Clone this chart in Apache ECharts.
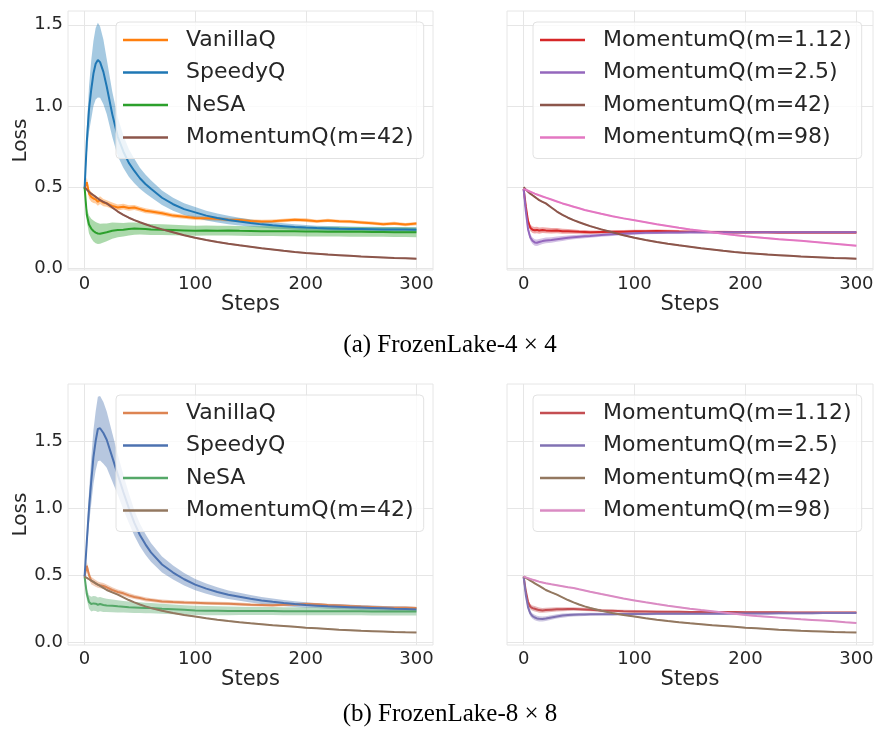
<!DOCTYPE html>
<html>
<head>
<meta charset="utf-8">
<script src="https://cdn.jsdelivr.net/npm/echarts@6/dist/echarts.min.js"></script>
<style>
  html, body { margin: 0; background: #fff; }
  #main { width: 877px; height: 731px; }
</style>
</head>
<body>
<div id="main"></div>
<script>
// training steps shared by every curve
var steps = [0,2,4,6,8,10,12,14,17,20, 25,30,35,40,45,50,55,60,
  70,80,90,100,110,120,130,140,150,160, 170,180,190,200,210,220,230,240,250,260, 270,280,290,300];
var xTicks = [0, 100, 200, 300];
var yTicks = [0, 0.5, 1.0, 1.5];

// ---- FrozenLake 4x4 ----
var vanilla4 = [0.50,0.53,0.46,0.44,0.43,0.425,0.41,0.42,0.405,0.40, 0.385,0.375,0.38,0.372,0.375,0.365,0.355,0.35,
  0.34,0.325,0.318,0.31,0.308,0.305,0.30,0.298,0.292,0.288, 0.29,0.295,0.30,0.297,0.29,0.295,0.29,0.288,0.283,0.278, 0.272,0.277,0.27,0.276];
var vanilla4Sd = [0,0.03,0.03,0.03,0.028,0.026,0.025,0.024,0.022,0.02, 0.02,0.018,0.018,0.017,0.016,0.015,0.015,0.014,
  0.014,0.013,0.013,0.012,0.012,0.012,0.012,0.012,0.011,0.011, 0.011,0.011,0.011,0.011,0.01,0.01,0.01,0.01,0.01,0.01, 0.01,0.01,0.01,0.01];
var speedy4 = [0.49,0.78,0.98,1.10,1.20,1.26,1.283,1.27,1.21,1.12, 0.95,0.81,0.72,0.65,0.60,0.555,0.52,0.49,
  0.435,0.395,0.365,0.345,0.325,0.31,0.298,0.288,0.279,0.271, 0.265,0.26,0.255,0.251,0.248,0.246,0.244,0.243,0.242,0.241, 0.24,0.24,0.239,0.238];
var speedy4Sd = [0,0.08,0.14,0.18,0.2,0.22,0.23,0.22,0.2,0.17, 0.14,0.12,0.1,0.085,0.075,0.065,0.058,0.052,
  0.045,0.04,0.036,0.033,0.03,0.028,0.026,0.024,0.022,0.02, 0.019,0.018,0.017,0.016,0.015,0.015,0.015,0.015,0.015,0.015, 0.015,0.015,0.015,0.015];
var nesa4 = [0.50,0.33,0.27,0.245,0.23,0.22,0.215,0.213,0.218,0.222, 0.232,0.236,0.238,0.242,0.245,0.244,0.242,0.24,
  0.238,0.236,0.234,0.232,0.233,0.232,0.233,0.231,0.23,0.229, 0.229,0.228,0.228,0.227,0.227,0.226,0.226,0.225,0.225,0.224, 0.224,0.223,0.223,0.222];
var nesa4Sd = [0,0.04,0.055,0.06,0.065,0.065,0.065,0.062,0.058,0.055, 0.05,0.045,0.042,0.04,0.038,0.036,0.035,0.034,
  0.033,0.032,0.032,0.031,0.031,0.03,0.03,0.03,0.03,0.03, 0.03,0.03,0.03,0.03,0.03,0.03,0.03,0.03,0.03,0.03, 0.03,0.03,0.03,0.03];
var mom42_4 = [0.50,0.485,0.472,0.46,0.45,0.44,0.43,0.42,0.41,0.40, 0.375,0.35,0.33,0.312,0.297,0.284,0.272,0.26,
  0.24,0.222,0.204,0.188,0.175,0.163,0.152,0.142,0.133,0.124, 0.116,0.108,0.101,0.095,0.09,0.085,0.081,0.077,0.073,0.07, 0.067,0.064,0.062,0.06];
var mom112_4 = [0.49,0.38,0.29,0.25,0.238,0.235,0.237,0.233,0.236,0.234, 0.232,0.233,0.229,0.228,0.227,0.225,0.224,0.223,
  0.224,0.225,0.226,0.228,0.229,0.23,0.229,0.227,0.226,0.225, 0.224,0.223,0.222,0.222,0.222,0.222,0.221,0.221,0.221,0.221, 0.221,0.221,0.221,0.221];
var mom25_4 = [0.49,0.35,0.24,0.19,0.17,0.16,0.158,0.162,0.168,0.172, 0.175,0.18,0.184,0.188,0.192,0.195,0.198,0.2,
  0.205,0.21,0.214,0.217,0.219,0.22,0.221,0.221,0.222,0.222, 0.222,0.222,0.222,0.222,0.223,0.223,0.223,0.223,0.223,0.223, 0.223,0.223,0.223,0.223];
var mom98_4 = [0.49,0.484,0.478,0.472,0.466,0.46,0.455,0.45,0.443,0.436, 0.424,0.412,0.40,0.39,0.38,0.37,0.36,0.352,
  0.336,0.321,0.308,0.296,0.284,0.272,0.261,0.25,0.24,0.231, 0.222,0.213,0.205,0.198,0.192,0.186,0.18,0.175,0.17,0.164, 0.158,0.152,0.146,0.14];

// ---- FrozenLake 8x8 ----
var vanilla8 = [0.49,0.57,0.50,0.46,0.45,0.44,0.43,0.425,0.42,0.41, 0.39,0.375,0.365,0.35,0.338,0.33,0.32,0.315,
  0.305,0.30,0.296,0.294,0.292,0.29,0.288,0.284,0.28,0.278, 0.276,0.28,0.282,0.285,0.283,0.278,0.275,0.27,0.266,0.263, 0.26,0.257,0.258,0.255];
var vanilla8Sd = [0,0.03,0.03,0.028,0.026,0.025,0.024,0.023,0.022,0.021, 0.02,0.019,0.018,0.017,0.016,0.015,0.015,0.014,
  0.014,0.013,0.013,0.012,0.012,0.012,0.012,0.012,0.011,0.011, 0.011,0.011,0.011,0.011,0.01,0.01,0.01,0.01,0.01,0.01, 0.01,0.01,0.01,0.01];
var speedy8 = [0.49,0.75,1.00,1.20,1.38,1.50,1.59,1.595,1.56,1.51, 1.38,1.25,1.12,1.00,0.89,0.80,0.73,0.67,
  0.58,0.52,0.47,0.43,0.40,0.375,0.355,0.34,0.325,0.312, 0.302,0.293,0.285,0.278,0.273,0.268,0.265,0.262,0.259,0.256, 0.253,0.25,0.248,0.245];
var speedy8Sd = [0,0.07,0.12,0.17,0.2,0.22,0.24,0.24,0.23,0.21, 0.18,0.15,0.13,0.11,0.095,0.085,0.077,0.07,
  0.06,0.052,0.046,0.042,0.038,0.035,0.032,0.03,0.028,0.026, 0.024,0.022,0.021,0.02,0.018,0.018,0.018,0.018,0.018,0.018, 0.018,0.018,0.018,0.018];
var nesa8 = [0.49,0.36,0.30,0.285,0.29,0.288,0.28,0.285,0.278,0.275, 0.272,0.268,0.265,0.262,0.26,0.258,0.256,0.255,
  0.25,0.246,0.242,0.238,0.236,0.235,0.234,0.234,0.233,0.233, 0.233,0.232,0.232,0.232,0.232,0.231,0.231,0.231,0.231,0.23, 0.23,0.23,0.23,0.23];
var nesa8Sd = [0,0.04,0.05,0.055,0.055,0.055,0.054,0.053,0.052,0.05, 0.048,0.045,0.043,0.042,0.041,0.04,0.039,0.038,
  0.037,0.036,0.035,0.035,0.034,0.033,0.032,0.031,0.03,0.03, 0.03,0.03,0.03,0.03,0.03,0.03,0.03,0.03,0.03,0.03, 0.03,0.03,0.03,0.03];
var mom42_8 = [0.49,0.48,0.47,0.46,0.45,0.44,0.43,0.42,0.405,0.39, 0.372,0.355,0.335,0.315,0.298,0.282,0.268,0.256,
  0.235,0.218,0.204,0.192,0.18,0.169,0.159,0.15,0.142,0.135, 0.128,0.122,0.116,0.109,0.104,0.099,0.094,0.09,0.086,0.083, 0.08,0.077,0.075,0.074];
var mom112_8 = [0.49,0.38,0.30,0.265,0.255,0.25,0.245,0.24,0.238,0.24, 0.243,0.246,0.247,0.248,0.248,0.247,0.245,0.242,
  0.238,0.235,0.232,0.23,0.229,0.228,0.227,0.227,0.226,0.226, 0.225,0.225,0.225,0.224,0.224,0.224,0.224,0.223,0.223,0.223, 0.223,0.223,0.223,0.223];
var mom25_8 = [0.49,0.35,0.26,0.215,0.195,0.185,0.178,0.175,0.174,0.177, 0.185,0.193,0.199,0.203,0.206,0.207,0.208,0.209,
  0.21,0.21,0.211,0.211,0.211,0.212,0.212,0.212,0.213,0.213, 0.213,0.213,0.214,0.214,0.215,0.215,0.216,0.216,0.217,0.217, 0.218,0.218,0.219,0.219];
var mom98_8 = [0.49,0.484,0.478,0.472,0.467,0.462,0.457,0.452,0.446,0.44, 0.432,0.425,0.418,0.411,0.405,0.395,0.386,0.377,
  0.36,0.344,0.326,0.312,0.298,0.285,0.273,0.262,0.25,0.24, 0.231,0.222,0.213,0.203,0.196,0.19,0.184,0.178,0.172,0.167, 0.162,0.157,0.15,0.144];

// spread of the momentum runs
var momSd = [0,0.02,0.022,0.02,0.02,0.02,0.02,0.019,0.018,0.018, 0.017,0.016,0.015,0.014,0.013,0.012,0.012,0.011,
  0.01,0.01,0.01,0.01,0.009,0.009,0.009,0.009,0.008,0.008, 0.008,0.008,0.008,0.008,0.007,0.007,0.007,0.007,0.007,0.007, 0.007,0.007,0.007,0.007];
var thinSd = [0,0.004,0.005,0.005,0.005,0.005,0.005,0.005,0.005,0.005, 0.005,0.005,0.005,0.005,0.005,0.005,0.005,0.005,
  0.005,0.005,0.005,0.005,0.005,0.005,0.005,0.005,0.005,0.005, 0.005,0.005,0.005,0.005,0.005,0.005,0.005,0.005,0.005,0.005, 0.005,0.005,0.005,0.005];

var tab = { orange: '#ff7f0e', blue: '#1f77b4', green: '#2ca02c', red: '#d62728', purple: '#9467bd', brown: '#8c564b', pink: '#e377c2' };
var deep = { orange: '#dd8452', blue: '#4c72b0', green: '#55a868', red: '#c44e52', purple: '#8172b3', brown: '#937860', pink: '#da8bc3' };

var font = 'DejaVu Sans';
var ink = '#262626';
var gridColor = '#e6e6e6';

function rgba(hex, a) {
  var n = parseInt(hex.slice(1), 16);
  return 'rgba(' + (n >> 16) + ',' + ((n >> 8) & 255) + ',' + (n & 255) + ',' + a + ')';
}

var series = [];
function addCurve(gi, name, mean, sd, color) {
  var band = steps.map(function (s, i) { return [s, mean[i] - sd[i], mean[i] + sd[i]]; });
  // shaded band: one polygon through the upper edge and back along the lower edge
  series.push({
    type: 'custom', xAxisIndex: gi, yAxisIndex: gi, silent: true, clip: true, z: 1,
    encode: { x: 0, y: [1, 2] },
    data: band,
    renderItem: function (params, api) {
      if (params.dataIndex !== 0) return null;
      var pts = [];
      band.forEach(function (d) { pts.push(api.coord([d[0], d[2]])); });
      for (var i = band.length - 1; i >= 0; i--) pts.push(api.coord([band[i][0], band[i][1]]));
      return { type: 'polygon', shape: { points: pts }, style: { fill: rgba(color, 0.4) } };
    }
  });
  series.push({
    name: name, type: 'line', xAxisIndex: gi, yAxisIndex: gi,
    symbol: 'none', z: 2,
    itemStyle: { color: color }, lineStyle: { color: color, width: 2 },
    data: steps.map(function (s, i) { return [s, mean[i]]; })
  });
}

addCurve(0, 'VanillaQ', vanilla4, vanilla4Sd, tab.orange);
addCurve(0, 'SpeedyQ', speedy4, speedy4Sd, tab.blue);
addCurve(0, 'NeSA', nesa4, nesa4Sd, tab.green);
addCurve(0, 'MomentumQ(m=42)', mom42_4, thinSd, tab.brown);
addCurve(1, 'MomentumQ(m=1.12)', mom112_4, momSd, tab.red);
addCurve(1, 'MomentumQ(m=2.5)', mom25_4, momSd, tab.purple);
addCurve(1, 'MomentumQ(m=42)', mom42_4, thinSd, tab.brown);
addCurve(1, 'MomentumQ(m=98)', mom98_4, thinSd, tab.pink);
addCurve(2, 'VanillaQ', vanilla8, vanilla8Sd, deep.orange);
addCurve(2, 'SpeedyQ', speedy8, speedy8Sd, deep.blue);
addCurve(2, 'NeSA', nesa8, nesa8Sd, deep.green);
addCurve(2, 'MomentumQ(m=42)', mom42_8, thinSd, deep.brown);
addCurve(3, 'MomentumQ(m=1.12)', mom112_8, momSd, deep.red);
addCurve(3, 'MomentumQ(m=2.5)', mom25_8, momSd, deep.purple);
addCurve(3, 'MomentumQ(m=42)', mom42_8, thinSd, deep.brown);
addCurve(3, 'MomentumQ(m=98)', mom98_8, thinSd, deep.pink);

function legend(left, top, names, colors) {
  return {
    orient: 'vertical', left: left, top: top, selectedMode: false,
    icon: 'rect', itemWidth: 45, itemHeight: 2.5, itemGap: 10.5,
    padding: [7, 10, 10, 7],
    backgroundColor: 'rgba(255,255,255,0.8)', borderColor: '#e2e2e2', borderWidth: 1, borderRadius: 4,
    textStyle: { fontFamily: font, fontSize: 22, lineHeight: 22, color: ink, padding: [0, 0, 0, 13] },
    data: names.map(function (n, i) { return { name: n, itemStyle: { color: colors[i] } }; })
  };
}

function xAxis(gi) {
  return {
    type: 'value', gridIndex: gi, min: -15, max: 315,
    name: 'Steps', nameLocation: 'middle', nameGap: 24,
    nameTextStyle: { fontFamily: font, fontSize: 21, color: ink },
    axisLine: { show: false },
    axisTick: { show: false, customValues: xTicks },
    axisLabel: { customValues: xTicks, margin: 5, fontFamily: font, fontSize: 18, color: ink },
    splitLine: { show: true, lineStyle: { color: gridColor, width: 1 } }
  };
}
function yAxis(gi, min, max, labels) {
  return {
    type: 'value', gridIndex: gi, min: min, max: max,
    name: labels ? 'Loss' : '', nameLocation: 'middle', nameGap: 36,
    nameTextStyle: { fontFamily: font, fontSize: 20, color: ink },
    axisLine: { show: false },
    axisTick: { show: false, customValues: yTicks },
    axisLabel: { show: labels, customValues: yTicks, margin: 5, fontFamily: font, fontSize: 18, color: ink,
      formatter: function (v) { return v.toFixed(1); } },
    splitLine: { show: true, lineStyle: { color: gridColor, width: 1 } }
  };
}

var gridBase = { show: true, borderColor: gridColor, borderWidth: 1, backgroundColor: '#fff' };
var option = {
  backgroundColor: '#fff',
  animation: false,
  grid: [
    Object.assign({ left: 68, top: 11, width: 365, height: 259 }, gridBase),
    Object.assign({ left: 507, top: 11, width: 366, height: 259 }, gridBase),
    Object.assign({ left: 68, top: 384, width: 365, height: 261 }, gridBase),
    Object.assign({ left: 507, top: 384, width: 366, height: 261 }, gridBase)
  ],
  xAxis: [xAxis(0), xAxis(1), xAxis(2), xAxis(3)],
  yAxis: [yAxis(0, -0.01, 1.585, true), yAxis(1, -0.01, 1.585, false),
          yAxis(2, -0.02, 1.925, true), yAxis(3, -0.02, 1.925, false)],
  legend: [
    legend(116, 22, ['VanillaQ', 'SpeedyQ', 'NeSA', 'MomentumQ(m=42)'], [tab.orange, tab.blue, tab.green, tab.brown]),
    legend(533, 22, ['MomentumQ(m=1.12)', 'MomentumQ(m=2.5)', 'MomentumQ(m=42)', 'MomentumQ(m=98)'], [tab.red, tab.purple, tab.brown, tab.pink]),
    legend(116, 395, ['VanillaQ', 'SpeedyQ', 'NeSA', 'MomentumQ(m=42)'], [deep.orange, deep.blue, deep.green, deep.brown]),
    legend(533, 395, ['MomentumQ(m=1.12)', 'MomentumQ(m=2.5)', 'MomentumQ(m=42)', 'MomentumQ(m=98)'], [deep.red, deep.purple, deep.brown, deep.pink])
  ],
  graphic: [
    // the figure is cropped just under the "Steps" labels
    { type: 'rect', z: 100, shape: { x: 0, y: 312.5, width: 877, height: 14 }, style: { fill: '#fff' } },
    { type: 'rect', z: 100, shape: { x: 0, y: 686, width: 877, height: 10 }, style: { fill: '#fff' } },
    { type: 'text', z: 101, x: 450, y: 345, style: { text: '(a) FrozenLake-4\u2005\u00d7\u20054', font: '25px "Liberation Serif"', fill: '#000', textAlign: 'center', textVerticalAlign: 'middle' } },
    { type: 'text', z: 101, x: 450, y: 714, style: { text: '(b) FrozenLake-8\u2005\u00d7\u20058', font: '25px "Liberation Serif"', fill: '#000', textAlign: 'center', textVerticalAlign: 'middle' } }
  ],
  series: series
};

var chart = echarts.init(document.getElementById('main'));
chart.setOption(option);
</script>
</body>
</html>
